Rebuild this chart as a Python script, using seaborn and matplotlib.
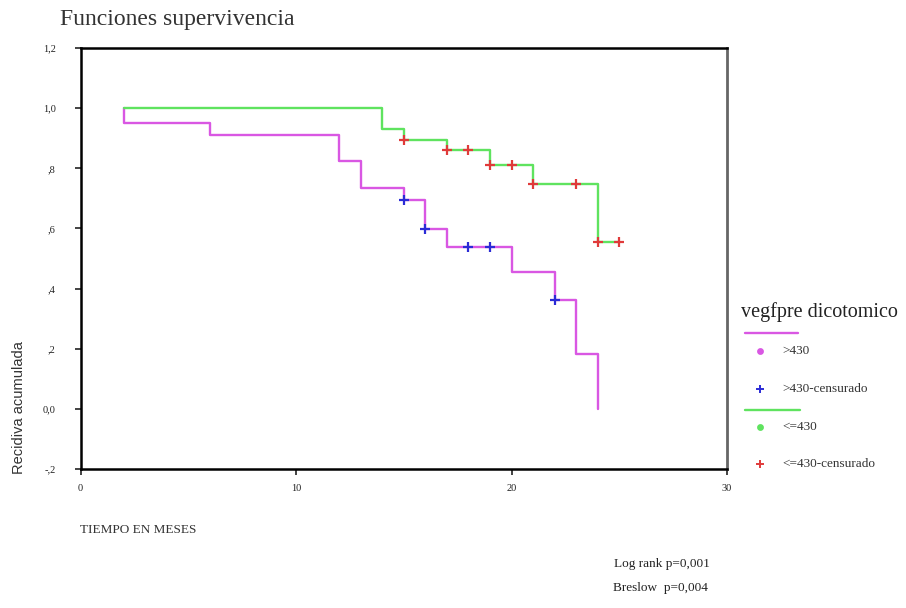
import numpy as np
import pandas as pd
import matplotlib
matplotlib.use("Agg")
import matplotlib.pyplot as plt
from matplotlib.lines import Line2D
import seaborn as sns

# ---- data ----
hi_times = [2, 2, 6, 12, 13, 15, 16, 17, 20, 22, 23, 24]
hi_surv = [1.0, 0.952, 0.911, 0.825, 0.736, 0.693, 0.598, 0.538, 0.456, 0.361, 0.182, 0.0]
lo_times = [2, 14, 15, 17, 19, 21, 24, 25]
lo_surv = [1.0, 0.930, 0.893, 0.860, 0.810, 0.748, 0.554, 0.554]
hi_cens_t = [15, 16, 18, 19, 22]
hi_cens_s = [0.693, 0.598, 0.538, 0.538, 0.361]
lo_cens_t = [15, 17, 18, 19, 20, 21, 23, 24, 25]
lo_cens_s = [0.893, 0.860, 0.860, 0.810, 0.810, 0.748, 0.748, 0.554, 0.554]

y_ticks = [-0.2, 0.0, 0.2, 0.4, 0.6, 0.8, 1.0, 1.2]
y_tick_labels = ["-,2", "0,0", ",2", ",4", ",6", ",8", "1,0", "1,2"]
x_ticks = [0, 10, 20, 30]
x_tick_labels = ["0", "10", "20", "30"]
legend_labels = [">430", ">430-censurado", "<=430", "<=430-censurado"]

sns.set_style("white")
plt.rcParams['font.family'] = ['Liberation Serif', 'DejaVu Serif']

C_MAG = "#d957e3"
C_GRN = "#5fe35f"
C_BLU = "#2b2bd6"
C_RED = "#e03a3a"

fig = plt.figure(figsize=(9.06, 6.08), dpi=100)
ax = fig.add_axes([0.089, 0.2286, 0.7135, 0.6924])

df_hi = pd.DataFrame({"t": hi_times, "s": hi_surv})
df_lo = pd.DataFrame({"t": lo_times, "s": lo_surv})
sns.lineplot(data=df_hi, x="t", y="s", estimator=None, sort=False,
             drawstyle="steps-post", color=C_MAG, lw=1.7, ax=ax)
sns.lineplot(data=df_lo, x="t", y="s", estimator=None, sort=False,
             drawstyle="steps-post", color=C_GRN, lw=1.7, ax=ax)
sns.scatterplot(x=hi_cens_t, y=hi_cens_s, marker="+", color=C_BLU, s=45,
                linewidth=1.6, ax=ax, zorder=5)
sns.scatterplot(x=lo_cens_t, y=lo_cens_s, marker="+", color=C_RED, s=45,
                linewidth=1.6, ax=ax, zorder=5)

ax.set_xlim(0, 30)
ax.set_ylim(-0.2, 1.2)
ax.set_xticks(x_ticks)
ax.set_xticklabels(x_tick_labels)
ax.set_yticks(y_ticks)
ax.set_yticklabels(y_tick_labels)
ax.tick_params(axis="both", direction="out", length=4, width=1.2,
               labelsize=7.5, colors="#222222", pad=7, left=True, bottom=True)
ax.tick_params(axis="y", pad=14)
ax.set_xlabel("")
ax.set_ylabel("")
for side in ["left", "bottom", "top"]:
    ax.spines[side].set_color("black")
    ax.spines[side].set_linewidth(1.8)
ax.spines["right"].set_color("#666666")
ax.spines["right"].set_linewidth(2.0)

# title and labels
fig.text(0.066, 0.968, "Funciones supervivencia", fontsize=17,
         color="#333333", ha="left", va="center")
fig.text(0.021, 0.33, "Recidiva acumulada", rotation=90, fontsize=10.5,
         family=['Liberation Sans Narrow', 'Liberation Sans', 'DejaVu Sans'],
         color="#333333", ha="center", va="center")
fig.text(0.088, 0.128, "TIEMPO EN MESES", fontsize=9.5, color="#333333",
         ha="left", va="center")
fig.text(0.731, 0.072, "Log rank p=0,001", fontsize=9.5, color="#222222",
         ha="center", va="center")
fig.text(0.729, 0.033, "Breslow  p=0,004", fontsize=9.5, color="#222222",
         ha="center", va="center")

# legend (manual)
fig.text(0.818, 0.486, "vegfpre dicotomico", fontsize=14.5, color="#222222",
         ha="left", va="center")
fig.add_artist(Line2D([0.822, 0.881], [1 - 333 / 608] * 2, color=C_MAG,
                      lw=1.7, transform=fig.transFigure))
fig.add_artist(Line2D([0.822, 0.883], [1 - 410 / 608] * 2, color=C_GRN,
                      lw=1.7, transform=fig.transFigure))
items = [
    (351, "o", C_MAG, legend_labels[0]),
    (389, "+", C_BLU, legend_labels[1]),
    (427, "o", C_GRN, legend_labels[2]),
    (464, "+", C_RED, legend_labels[3]),
]
for ypix, mk, col, lab in items:
    yf = 1 - ypix / 608
    fig.add_artist(Line2D([760 / 906], [yf], marker=mk, color=col, ls="none",
                          markersize=3.5 if mk == "o" else 6, mew=1.4,
                          transform=fig.transFigure))
    fig.text(782 / 906, yf, lab, fontsize=9.5, color="#333333",
             ha="left", va="center")

fig.savefig("out.png", dpi=100)
